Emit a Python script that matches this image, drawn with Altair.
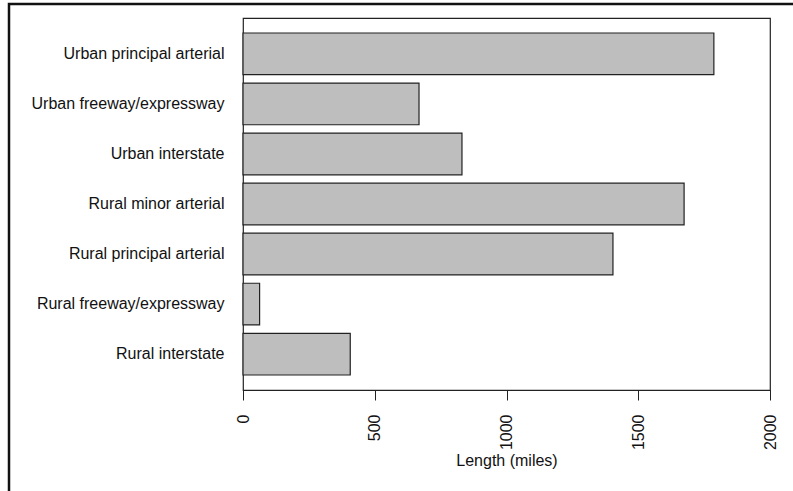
import altair as alt
import pandas as pd

categories = [
    "Urban principal arterial",
    "Urban freeway/expressway",
    "Urban interstate",
    "Rural minor arterial",
    "Rural principal arterial",
    "Rural freeway/expressway",
    "Rural interstate",
]
lengths = [1787, 668, 831, 1674, 1404, 63, 407]
x_ticks = [0, 500, 1000, 1500, 2000]

df = pd.DataFrame({"category": categories, "length": lengths})

FONT = "Liberation Sans"

bars = alt.Chart(df).mark_bar(
    fill="#BEBEBE", stroke="#222222", strokeWidth=1.2
).encode(
    x=alt.X(
        "length:Q",
        scale=alt.Scale(domain=[0, 2000], nice=False, zero=True),
        axis=alt.Axis(
            values=x_ticks,
            format="d",
            title="Length (miles)",
            labelAngle=270,
            labelFontSize=16,
            titleFontSize=16,
            labelFont=FONT,
            titleFont=FONT,
            labelColor="#111111",
            titleColor="#111111",
            titleFontWeight="normal",
            tickSize=10,
            tickColor="#222222",
            domainColor="#222222",
            labelPadding=14,
            titlePadding=3,
            grid=False,
            labelFlush=False,
        ),
    ),
    y=alt.Y(
        "category:N",
        sort=categories,
        scale=alt.Scale(paddingInner=0.1667, paddingOuter=0.3),
        axis=alt.Axis(
            title=None,
            ticks=False,
            domain=False,
            labelFontSize=16,
            labelFont=FONT,
            labelColor="#111111",
            labelPadding=19,
            labelLimit=400,
        ),
    ),
)

frame = alt.Chart(pd.DataFrame({"f": [0]})).mark_rect(
    fill=None, stroke="#111111", strokeWidth=2.5, clip=False
).encode(
    x=alt.value(-234),
    x2=alt.value(575),
    y=alt.value(-14),
    y2=alt.value(490),
)

chart = alt.layer(bars, frame).properties(
    width=527,
    height=372,
    autosize=alt.AutoSizeParams(type="none"),
    padding={"left": 243, "top": 18, "right": 23, "bottom": 101},
    background="white",
).configure_view(stroke="#222222", strokeWidth=1.2)

chart.save("out.html", embed_options={"renderer": "svg", "actions": False})
